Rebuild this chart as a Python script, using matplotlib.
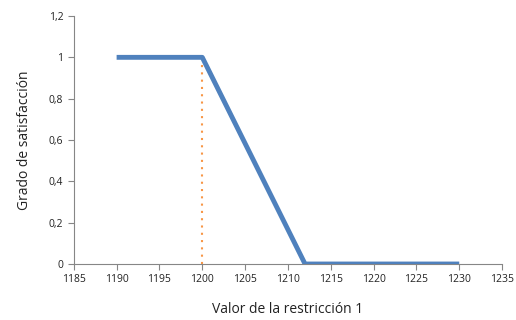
import numpy as np
import matplotlib
matplotlib.use("Agg")
import matplotlib.pyplot as plt

# datos de la función de pertenencia
x_vals = [1190, 1200, 1212, 1230]
y_vals = [1, 1, 0, 0]
x_ref = 1200
x_ticks = [1185, 1190, 1195, 1200, 1205, 1210, 1215, 1220, 1225, 1230, 1235]
y_ticks = [0, 0.2, 0.4, 0.6, 0.8, 1.0, 1.2]
y_tick_labels = ["0", "0,2", "0,4", "0,6", "0,8", "1", "1,2"]

plt.rcParams['font.family'] = ['Open Sans', 'DejaVu Sans']

fig = plt.figure(figsize=(5.16, 3.20), dpi=100)
ax = fig.add_axes([0.143, 0.175, 0.83, 0.775])

ax.plot(x_vals, y_vals, color='#4f81bd', lw=3.5, solid_capstyle='butt', zorder=3)
ax.plot([x_ref, x_ref], [0, 1], color='#f79646', lw=1.5, ls=(0, (1, 2.5)), zorder=2)

ax.set_xlim(1185, 1235)
ax.set_ylim(0, 1.2)
ax.set_xticks(x_ticks)
ax.set_yticks(y_ticks)
ax.set_yticklabels(y_tick_labels)

for s in ['top', 'right']:
    ax.spines[s].set_visible(False)
for s in ['left', 'bottom']:
    ax.spines[s].set_color('#868686')
    ax.spines[s].set_linewidth(0.8)
ax.tick_params(colors='#868686', labelcolor='#222222', labelsize=7.5, length=4, width=0.8)

ax.set_xlabel('Valor de la restricción 1', fontsize=10, color='#222222', labelpad=12)
ax.set_ylabel('Grado de satisfacción', fontsize=10, color='#222222', labelpad=12)

fig.savefig('out.png', dpi=100)
